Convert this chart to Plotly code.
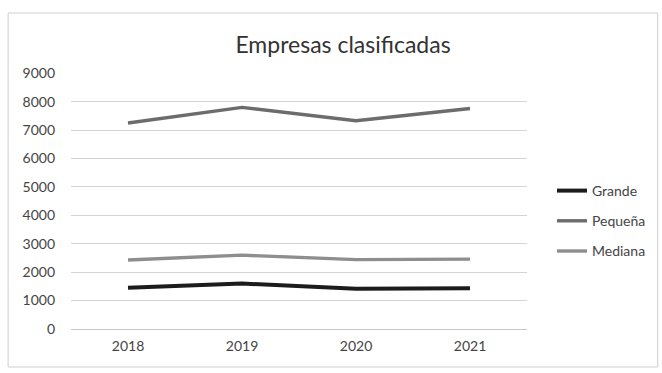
import plotly.graph_objects as go

years = ["2018", "2019", "2020", "2021"]
grande = [1450, 1600, 1420, 1430]
pequena = [7250, 7800, 7330, 7760]
mediana = [2430, 2600, 2440, 2460]

y_ticks = list(range(0, 9001, 1000))

# plot-area geometry in pixels
L, R, T, B = 71, 528, 73, 329
W, H = 662, 373
pw, ph = R - L, B - T

fig = go.Figure()
series = [
    ("Grande", grande, "#1c1c1c", 4),
    ("Pequeña", pequena, "#6c6c6c", 3.4),
    ("Mediana", mediana, "#8e8e8e", 3.4),
]
for name, vals, color, width in series:
    fig.add_trace(go.Scatter(
        x=years, y=vals, mode="lines", name=name, legendgroup=name,
        line=dict(color=color, width=width),
    ))

fig.update_layout(
    width=W, height=H,
    margin=dict(l=L, r=W - R, t=T, b=H - B),
    paper_bgcolor="white", plot_bgcolor="white",
    font=dict(family="Lato, 'Open Sans', sans-serif", color="#444", size=14),
    title=dict(text="Empresas clasificadas", x=343 / W, xanchor="center", xref="container",
               y=1 - 45 / H, yanchor="middle",
               font=dict(size=23, color="#333")),
    xaxis=dict(range=[-0.5, 3.5], showgrid=False, zeroline=False, showline=False,
               ticks="", ticklabelstandoff=7, tickfont=dict(size=14, color="#444")),
    yaxis=dict(range=[0, 9010], tickvals=y_ticks, showgrid=True, gridcolor="#d4d4d4",
               gridwidth=1, zeroline=True, zerolinecolor="#c8c8c8", zerolinewidth=1,
               showline=False, ticks="", ticklabelstandoff=15,
               tickfont=dict(size=14, color="#444")),
    legend=dict(x=(552 - L) / pw, y=(B - 221) / ph, xanchor="left", yanchor="middle",
                font=dict(size=14, color="#444"), tracegroupgap=9,
                itemwidth=30, bgcolor="rgba(0,0,0,0)"),
    showlegend=True,
)

fig.add_shape(type="rect", xref="paper", yref="paper",
              x0=(8 - L) / pw, x1=(659 - L) / pw,
              y0=(B - 367) / ph, y1=(B - 13) / ph,
              line=dict(color="#cfcfcf", width=1), fillcolor="rgba(0,0,0,0)", layer="below")

fig.write_html("out.html")
